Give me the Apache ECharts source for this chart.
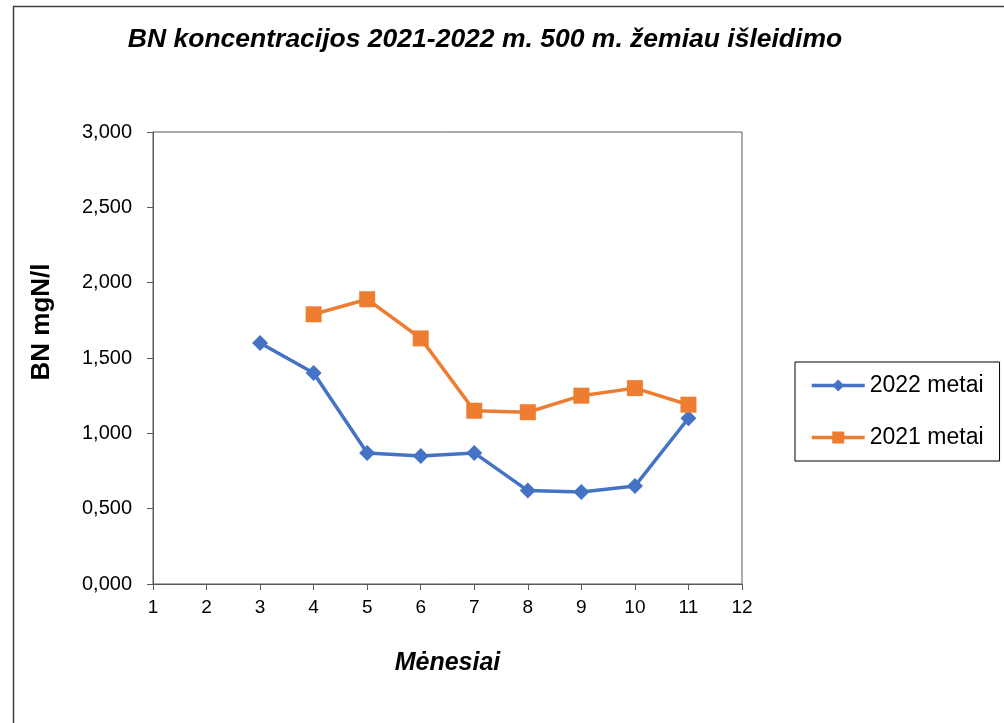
<!DOCTYPE html>
<html><head><meta charset="utf-8">
<script src="https://cdn.jsdelivr.net/npm/echarts@6/dist/echarts.min.js"></script>
<style>html,body{margin:0;padding:0;background:#fff}#c{width:1004px;height:723px}</style>
</head><body><div id="c"></div>
<script>
const months2022 = [3,4,5,6,7,8,9,10,11];
const values2022 = [1.60,1.40,0.87,0.85,0.87,0.62,0.61,0.65,1.10];
const months2021 = [4,5,6,7,8,9,10,11];
const values2021 = [1.79,1.89,1.63,1.15,1.14,1.25,1.30,1.19];
const seriesNames = ['2022 metai','2021 metai'];
const titleText = 'BN koncentracijos 2021-2022 m. 500 m. žemiau išleidimo';
const xName = 'Mėnesiai';
const yName = 'BN mgN/l';

const chart = echarts.init(document.getElementById('c'), null, {renderer:'canvas'});
const font = 'Liberation Sans, Arial, sans-serif';
chart.setOption({
  animation:false,
  backgroundColor:'#fff',
  textStyle:{fontFamily:font},
  graphic:[
    {type:'rect',shape:{x:13.5,y:6.5,width:1000,height:730},style:{fill:null,stroke:'#404040',lineWidth:1.5},silent:true},
    {type:'text',x:42,y:322,rotation:Math.PI/2,style:{text:yName,fontFamily:font,fontSize:26,fontWeight:'bold',fill:'#000',align:'center',verticalAlign:'middle'},silent:true}
  ],
  title:{text:titleText,left:480,top:21,textAlign:'center',textStyle:{fontFamily:font,fontSize:26.5,fontWeight:'bold',fontStyle:'italic',color:'#000'}},
  grid:{left:153,right:262,top:132,bottom:139,show:true,borderColor:'#595959',borderWidth:1},
  legend:{orient:'vertical',left:795,top:362,padding:[12,16,12,15],itemGap:29,itemWidth:53,itemHeight:15,
    lineStyle:{width:3.5},
    borderColor:'#000',borderWidth:1,textStyle:{fontFamily:font,fontSize:23,color:'#000'},data:seriesNames},
  xAxis:{type:'value',min:1,max:12,interval:1,name:xName,nameLocation:'middle',nameGap:67,
    nameTextStyle:{fontFamily:font,fontSize:25,fontWeight:'bold',fontStyle:'italic',color:'#000'},
    axisLine:{lineStyle:{color:'#595959',width:1}},axisTick:{show:true,length:6,lineStyle:{color:'#595959'}},
    axisLabel:{fontFamily:font,fontSize:19,color:'#000',margin:14},splitLine:{show:false}},
  yAxis:{type:'value',min:0,max:3,interval:0.5,
    axisLine:{show:true,lineStyle:{color:'#595959',width:1}},axisTick:{show:true,length:6,lineStyle:{color:'#595959'}},
    axisLabel:{fontFamily:font,fontSize:20,color:'#000',margin:21,formatter:v=>v.toFixed(3).replace('.',',')},splitLine:{show:false}},
  series:[
    {name:seriesNames[0],type:'line',data:months2022.map((m,i)=>[m,values2022[i]]),symbol:'diamond',symbolSize:16,
      lineStyle:{width:3.5,color:'#4472C4'},itemStyle:{color:'#4472C4'}},
    {name:seriesNames[1],type:'line',data:months2021.map((m,i)=>[m,values2021[i]]),symbol:'rect',symbolSize:16,
      lineStyle:{width:3.5,color:'#ED7D31'},itemStyle:{color:'#ED7D31'}}
  ]
});
</script></body></html>
